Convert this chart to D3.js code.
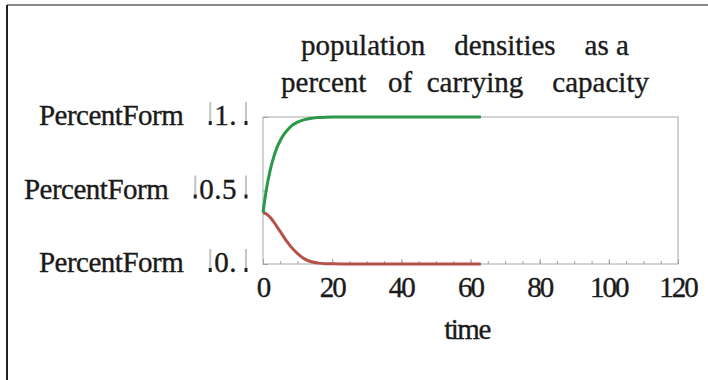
<!DOCTYPE html>
<html>
<head>
<meta charset="utf-8">
<script src="https://cdn.jsdelivr.net/npm/d3@7"></script>
<style>
  body { margin: 0; background: #fff; }
  text { font-family: "Liberation Serif", "DejaVu Serif", serif; fill: #1a1a1a; stroke: #1a1a1a; stroke-width: 0.35; }
</style>
</head>
<body>
<svg id="chart" width="708" height="380"></svg>
<script>
// values
var time = [0, 1, 2, 3, 4, 5, 6, 7, 8, 10, 12, 14, 16, 18, 20, 25, 30, 40, 50, 63];
var growing = [0.35, 0.51, 0.63, 0.72, 0.79, 0.84, 0.88, 0.91, 0.935, 0.965, 0.982, 0.991, 0.996, 0.999, 1, 1, 1, 1, 1, 1];
var declining = [0.35, 0.34, 0.32, 0.29, 0.255, 0.22, 0.185, 0.15, 0.12, 0.07, 0.035, 0.015, 0.006, 0.002, 0.001, 0, 0, 0, 0, 0];
var yTicks = [0, 0.5, 1];
var yTickLabels = ["0.", "0.5", "1."];
var xTicks = [0, 20, 40, 60, 80, 100, 120];
var titleLines = ["population    densities    as a", "percent   of  carrying    capacity"];

var svg = d3.select("#chart");

// page border like the screenshot
svg.append("line").attr("x1", 7).attr("y1", 5).attr("x2", 708).attr("y2", 5)
    .attr("stroke", "#8a8a8a").attr("stroke-width", 2);
svg.append("line").attr("x1", 7).attr("y1", 5).attr("x2", 7).attr("y2", 380)
    .attr("stroke", "#222").attr("stroke-width", 2);

var x = d3.scaleLinear().domain([0, 120]).range([263, 678]);
var y = d3.scaleLinear().domain([0, 1]).range([264, 117]);

// frame
svg.append("rect")
    .attr("x", x(0)).attr("y", y(1))
    .attr("width", x(120) - x(0)).attr("height", y(0) - y(1))
    .attr("fill", "none").attr("stroke", "#a8a8a8").attr("stroke-width", 1);

// minor + major ticks, pointing inward
var minor = d3.range(0, 121, 5);
svg.append("g").attr("transform", "translate(0," + y(0) + ")")
    .call(d3.axisTop(x).tickValues(minor).tickSize(3).tickFormat(""))
    .call(g => g.select(".domain").remove())
    .call(g => g.selectAll("line").attr("stroke", "#a0a0a0"));
svg.append("g").attr("transform", "translate(0," + y(0) + ")")
    .call(d3.axisTop(x).tickValues(xTicks).tickSize(5).tickFormat(""))
    .call(g => g.select(".domain").remove())
    .call(g => g.selectAll("line").attr("stroke", "#a0a0a0"));
svg.append("g").attr("transform", "translate(" + x(0) + ",0)")
    .call(d3.axisRight(y).tickValues(yTicks).tickSize(5).tickFormat(""))
    .call(g => g.select(".domain").remove())
    .call(g => g.selectAll("line").attr("stroke", "#a0a0a0"));

// x tick labels
svg.append("g").selectAll("text").data(xTicks).enter().append("text")
    .attr("x", d => x(d)).attr("y", 297)
    .attr("text-anchor", "middle").attr("font-size", 29)
    .attr("letter-spacing", -2)
    .text(d => d);

svg.append("text").attr("x", 467).attr("y", 339)
    .attr("text-anchor", "middle").attr("font-size", 29).attr("letter-spacing", -1.5)
    .text("time");

// title
svg.append("g").selectAll("text").data(titleLines).enter().append("text")
    .attr("x", 465).attr("y", (d, i) => 55 + i * 37)
    .attr("text-anchor", "middle").attr("font-size", 29)
    .style("white-space", "pre")
    .text(d => d);

// y tick labels: "PercentForm ⌊n⌋"
var yl = svg.append("g").selectAll("g").data(yTicks).enter().append("g")
    .attr("transform", d => "translate(0," + y(d) + ")");
yl.append("text").attr("class", "num")
    .attr("x", 237).attr("y", 8)
    .attr("text-anchor", "end").attr("font-size", 29).attr("letter-spacing", 0.5)
    .text((d, i) => yTickLabels[i]);
yl.each(function () {
    var g = d3.select(this);
    var bb = g.select(".num").node().getBBox();
    var lx = bb.x - 4;
    [lx, 246].forEach(function (bx) {
        g.append("line").attr("x1", bx).attr("x2", bx).attr("y1", -15).attr("y2", 7)
            .attr("stroke", "#c4c4c4").attr("stroke-width", 2);
        g.append("rect").attr("x", bx - 1.5).attr("y", 4).attr("width", 3).attr("height", 4)
            .attr("fill", "#222");
    });
    g.append("text").attr("x", lx - 27).attr("y", 8)
        .attr("text-anchor", "end").attr("font-size", 29).attr("letter-spacing", -0.5)
        .text("PercentForm");
});

// curves
var line = d3.line()
    .x(d => x(d[0])).y(d => y(d[1]))
    .curve(d3.curveMonotoneX);

svg.append("path").datum(time.map((t, i) => [t, declining[i]]))
    .attr("d", line).attr("fill", "none")
    .attr("stroke", "#b5514b").attr("stroke-width", 3);
svg.append("path").datum(time.map((t, i) => [t, growing[i]]))
    .attr("d", line).attr("fill", "none")
    .attr("stroke", "#2a9848").attr("stroke-width", 3);
</script>
</body>
</html>
